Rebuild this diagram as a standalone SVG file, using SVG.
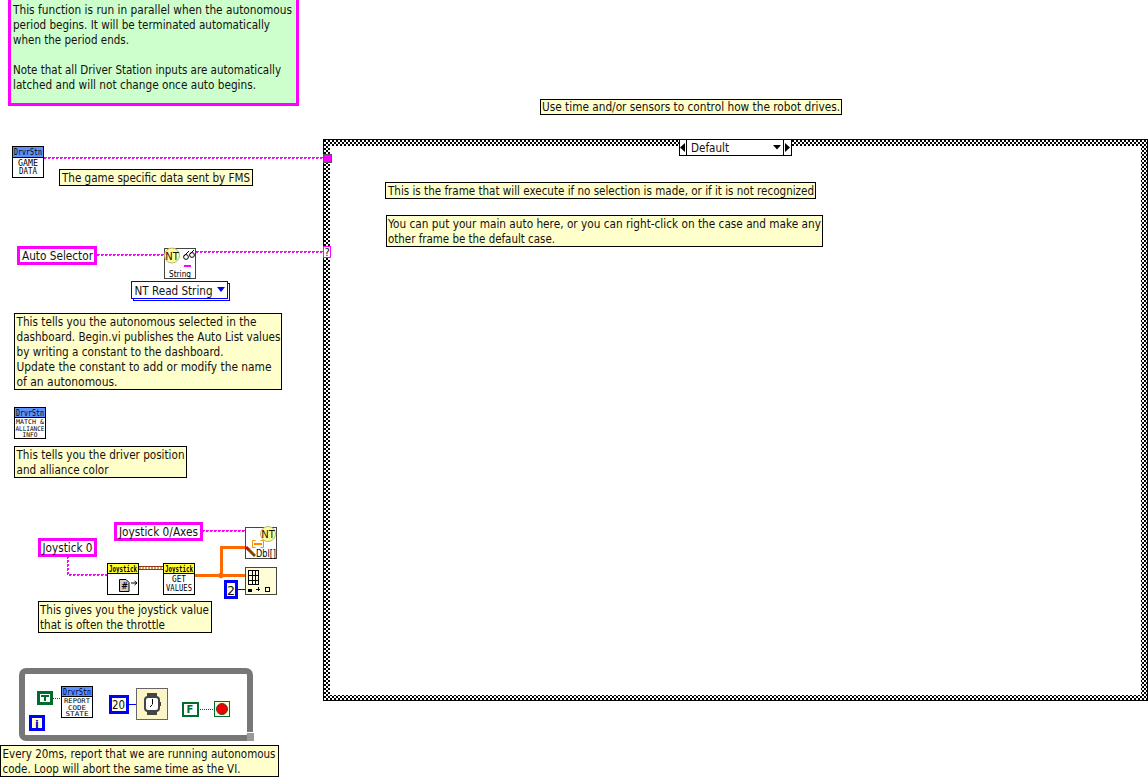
<svg xmlns="http://www.w3.org/2000/svg" width="1148" height="780" viewBox="0 0 1148 780">
<style>
text{font-family:"DejaVu Sans","Noto Sans",sans-serif;font-size:12px;fill:#14100f}
.px{font-size:8px;fill:#000;font-family:"DejaVu Sans Mono","Liberation Mono",monospace}
.hd{font-size:9px;fill:#000;font-family:"DejaVu Sans Mono","Liberation Mono",monospace}
.note{fill:#ffffcc;stroke:#000;stroke-width:1;shape-rendering:crispEdges}
.ctl{fill:#fff;stroke:#ff00ff;stroke-width:3;shape-rendering:crispEdges}
.num{fill:#fffde8;stroke:#0000ff;stroke-width:3;shape-rendering:crispEdges}
.vi{fill:#fff;stroke:#000;stroke-width:1;shape-rendering:crispEdges}
.vg{fill:#fff;stroke:#444;stroke-width:1;shape-rendering:crispEdges}
.hb{fill:#5c8fff;stroke:#000;stroke-width:1;shape-rendering:crispEdges}
.hy{fill:#ffff33;stroke:#000;stroke-width:1;shape-rendering:crispEdges}
.s1,.s2{fill:none;stroke:#ff00ff;stroke-width:1;shape-rendering:crispEdges}
.s1{stroke-dasharray:3 1}
.s2{stroke-dasharray:2 2;stroke-dashoffset:0}
.o{fill:none;stroke:#ff6a00;stroke-width:3;shape-rendering:crispEdges}
.g{fill:none;stroke:#006400;stroke-width:1;stroke-dasharray:1 1;shape-rendering:crispEdges}
.b{fill:none;stroke:#0000ff;stroke-width:1;shape-rendering:crispEdges}
.bc{fill:#006b2d;stroke:#006b2d;shape-rendering:crispEdges}
</style>
<defs>
<pattern id="chk" width="4" height="4" patternUnits="userSpaceOnUse">
<rect width="4" height="4" fill="#fff"/><rect width="2" height="2" fill="#000"/><rect x="2" y="2" width="2" height="2" fill="#000"/>
</pattern>
</defs>
<rect width="1148" height="780" fill="#fff"/>

<g id="case-structure">
<path d="M323 139H1148V701H323ZM330 146V695H1141V146Z" fill="url(#chk)" fill-rule="evenodd" shape-rendering="crispEdges"/>
<path d="M323.500 701V139.500H1148M323.500 700.500H1148M1147.500 139.500V701" fill="none" stroke="#000" shape-rendering="crispEdges"/>
</g>
<g id="case-selector">
<rect x="679.5" y="139.5" width="112" height="16" fill="#fff" stroke="#000" shape-rendering="crispEdges"/>
<path d="M686.5 139.5V155.5M783.5 139.5V155.5" stroke="#000" fill="none" shape-rendering="crispEdges"/>
<path d="M685 143V152L680 147.5Z" fill="#000"/><path d="M785 143V152L790 147.5Z" fill="#000"/>
<path d="M773 145H781L777 149.5Z" fill="#000"/>
<text x="691" y="152" textLength="38" lengthAdjust="spacingAndGlyphs">Default</text>
</g>

<g id="connectors">
<path class="s1" d="M44 157.5H323"/><path class="s2" d="M44 158.5H323"/>
<path class="s1" d="M97 254.5H164"/><path class="s2" d="M97 255.5H164"/>
<path class="s1" d="M196 251.5H323"/><path class="s2" d="M196 252.5H323"/>
<path class="s1" d="M202 530.5H245"/><path class="s2" d="M202 531.5H245"/>
<path class="s1" d="M67.5 556V574.5H107"/><path class="s2" d="M68.5 556V575.5H107"/>
<path d="M139 566H163M139 569H163" stroke="#8b3a10" fill="none" shape-rendering="crispEdges"/>
<path d="M139 567.5H163" stroke="#d9a070" stroke-dasharray="2 1" fill="none" stroke-width="2" shape-rendering="crispEdges"/>
<path class="o" d="M195 575.5H245"/>
<path class="o" d="M221.5 575V547.5H245"/>
<circle cx="221" cy="575.5" r="2.8" fill="#ff6a00"/>
<path class="b" d="M237 589.5H245"/>
<path class="g" d="M53 698.5H61"/>
<path class="b" d="M128 704.5H136"/>
<path class="g" d="M198 709.5H214"/>
</g>

<g id="note-purpose">
<rect x="9.5" y="-2" width="288" height="106" fill="#ccffcc" stroke="#ff00ff" stroke-width="3" shape-rendering="crispEdges"/>
<text x="13" y="14" textLength="279" lengthAdjust="spacingAndGlyphs">This function is run in parallel when the autonomous</text>
<text x="13" y="29" textLength="257" lengthAdjust="spacingAndGlyphs">period begins. It will be terminated automatically</text>
<text x="13" y="44" textLength="116" lengthAdjust="spacingAndGlyphs">when the period ends.</text>
<text x="13" y="74" textLength="268" lengthAdjust="spacingAndGlyphs">Note that all Driver Station inputs are automatically</text>
<text x="13" y="89" textLength="243" lengthAdjust="spacingAndGlyphs">latched and will not change once auto begins.</text>
</g>
<g id="note-use-time">
<rect class="note" x="540.5" y="99.5" width="301" height="15"/>
<text x="542" y="111" textLength="298" lengthAdjust="spacingAndGlyphs">Use time and/or sensors to control how the robot drives.</text>
</g>

<g id="game-data">
<rect class="vi" x="12.5" y="146.5" width="31" height="31"/>
<rect class="hb" x="12.5" y="146.5" width="31" height="11"/>
<text class="hd" x="14" y="155" textLength="28" lengthAdjust="spacingAndGlyphs">DrvrStn</text>
<text class="px" x="28" y="166" text-anchor="middle" textLength="20" lengthAdjust="spacingAndGlyphs">GAME</text>
<text class="px" x="28" y="174" text-anchor="middle" textLength="18" lengthAdjust="spacingAndGlyphs">DATA</text>
</g>
<g id="note-game">
<rect class="note" x="59.5" y="169.5" width="193" height="16"/>
<text x="62" y="182" textLength="188" lengthAdjust="spacingAndGlyphs">The game specific data sent by FMS</text>
</g>
<g id="terminal-game">
<rect x="323.5" y="154.5" width="8" height="8" fill="#ff00ff" stroke="#555" shape-rendering="crispEdges"/>
</g>
<g id="terminal-selector">
<rect x="323.5" y="246.5" width="7" height="11" fill="#fff" stroke="#ff00ff" shape-rendering="crispEdges"/>
<text x="324.5" y="256" style="font-size:10px">?</text>
</g>

<g id="auto-selector">
<rect class="ctl" x="18.5" y="247.5" width="77" height="16"/>
<text x="22" y="260" textLength="71" lengthAdjust="spacingAndGlyphs">Auto Selector</text>
</g>
<g id="nt-read">
<rect class="vg" x="164.5" y="248.5" width="31" height="30"/>
<circle cx="172" cy="255.5" r="7.500" fill="#ffff99" stroke="#b8b870"/>
<text x="172" y="259.5" text-anchor="middle" style="font-size:10px">NT</text>
<circle cx="186" cy="257" r="2.4" fill="none" stroke="#000"/><circle cx="192" cy="255" r="2.4" fill="none" stroke="#000"/>
<path d="M184 256L189 251M190 254L194 250" stroke="#000" fill="none"/>
<rect x="184" y="265" width="7" height="2" fill="#ff00ff"/>
<text class="px" x="180" y="277" text-anchor="middle" style="font-size:8.5px;font-family:'DejaVu Sans',sans-serif" textLength="22" lengthAdjust="spacingAndGlyphs">String</text>
</g>
<g id="nt-enum">
<rect x="133.5" y="283.5" width="96" height="17" fill="#fff" stroke="#0000ff" shape-rendering="crispEdges"/>
<rect x="131.5" y="281.5" width="96" height="17" fill="#fff" stroke="#0000ff" shape-rendering="crispEdges"/>
<path d="M217 287H225L221 292Z" fill="#0000ff"/>
<text x="134.5" y="295" textLength="78" lengthAdjust="spacingAndGlyphs">NT Read String</text>
</g>
<g id="note-auto">
<rect class="note" x="14.5" y="313.5" width="267" height="76"/>
<text x="16.5" y="326" textLength="240" lengthAdjust="spacingAndGlyphs">This tells you the autonomous selected in the</text>
<text x="16.5" y="341" textLength="264" lengthAdjust="spacingAndGlyphs">dashboard. Begin.vi publishes the Auto List values</text>
<text x="16.5" y="356" textLength="207" lengthAdjust="spacingAndGlyphs">by writing a constant to the dashboard.</text>
<text x="16.5" y="371" textLength="255" lengthAdjust="spacingAndGlyphs">Update the constant to add or modify the name</text>
<text x="16.5" y="386" textLength="101" lengthAdjust="spacingAndGlyphs">of an autonomous.</text>
</g>

<g id="match-info">
<rect class="vi" x="14.5" y="407.5" width="31" height="31"/>
<rect class="hb" x="14.5" y="407.5" width="31" height="10"/>
<text class="hd" x="16" y="416" textLength="28" lengthAdjust="spacingAndGlyphs">DrvrStn</text>
<text class="px" x="30" y="424" text-anchor="middle" style="font-size:6.500px" textLength="28" lengthAdjust="spacingAndGlyphs">MATCH &amp;</text>
<text class="px" x="30" y="430.500" text-anchor="middle" style="font-size:6.500px" textLength="29" lengthAdjust="spacingAndGlyphs">ALLIANCE</text>
<text class="px" x="30" y="437" text-anchor="middle" style="font-size:6.500px" textLength="15" lengthAdjust="spacingAndGlyphs">INFO</text>
</g>
<g id="note-driver">
<rect class="note" x="14.5" y="446.5" width="172" height="31"/>
<text x="16.5" y="459" textLength="168" lengthAdjust="spacingAndGlyphs">This tells you the driver position</text>
<text x="16.5" y="474" textLength="92" lengthAdjust="spacingAndGlyphs">and alliance color</text>
</g>

<g id="joystick-0">
<rect class="ctl" x="39.5" y="539.5" width="56" height="16"/>
<text x="42.5" y="552" textLength="50" lengthAdjust="spacingAndGlyphs">Joystick 0</text>
</g>
<g id="joystick-axes">
<rect class="ctl" x="115.5" y="523.5" width="86" height="16"/>
<text x="119" y="536" textLength="79" lengthAdjust="spacingAndGlyphs">Joystick 0/Axes</text>
</g>
<g id="joystick-open">
<rect class="vi" x="107.5" y="563.5" width="31" height="31"/>
<rect class="hy" x="107.5" y="563.5" width="31" height="10"/>
<text class="px" x="123" y="571.5" text-anchor="middle" style="font-weight:bold" textLength="28" lengthAdjust="spacingAndGlyphs">Joystick</text>
<path d="M119.5 579.5H126L129 582.5V591.5H119.5Z" fill="#ccc" stroke="#000"/>
<text x="124.5" y="589" text-anchor="middle" style="font-size:8px;font-weight:bold;fill:#000">#</text>
<path d="M131 583H137M134.5 581L137 583L134.5 585" fill="none" stroke="#000"/>
</g>
<g id="joystick-get">
<rect class="vi" x="163.5" y="563.5" width="31" height="31"/>
<rect class="hy" x="163.5" y="563.5" width="31" height="10"/>
<text class="px" x="179" y="571.5" text-anchor="middle" style="font-weight:bold" textLength="28" lengthAdjust="spacingAndGlyphs">Joystick</text>
<text class="px" x="179" y="582" text-anchor="middle" textLength="14" lengthAdjust="spacingAndGlyphs">GET</text>
<text class="px" x="179" y="591" text-anchor="middle" textLength="26" lengthAdjust="spacingAndGlyphs">VALUES</text>
</g>
<g id="nt-write">
<rect class="vg" x="245.5" y="527.5" width="31" height="31" fill="#fff"/>
<circle cx="268" cy="534" r="7.500" fill="#ffff99" stroke="#b8b870"/>
<text x="268" y="538" text-anchor="middle" style="font-size:10px">NT</text>
<path d="M255.5 540.500H252.500V547.500H255.500M260.500 540.500H263.500V547.500H260.500" fill="none" stroke="#ff8c00"/>
<rect x="254" y="543" width="8" height="2" fill="#ff8c00"/>
<path d="M248 549L255 556" stroke="#7a4a00" stroke-width="3"/>
<path d="M246 547L248.500 549.500" stroke="#d00000" stroke-width="3"/>
<text x="256" y="557" style="font-size:10px;fill:#000" textLength="20" lengthAdjust="spacingAndGlyphs">Dbl[]</text>
</g>
<g id="array-subset">
<rect x="245.500" y="567.500" width="31" height="27" fill="#fffdd8" stroke="#444" shape-rendering="crispEdges"/>
<path d="M248.500 570.500H258.500V584.500H248.500ZM248.500 575.500H258.500M248.500 580.500H258.500M252 570.500V584.500M255 570.500V584.500" fill="#fffdd8" stroke="#000" stroke-width="1" shape-rendering="crispEdges"/>
<rect x="248" y="589" width="4" height="3" fill="#000"/>
<path d="M256 589H260M258 587V591" stroke="#000" fill="none" shape-rendering="crispEdges"/>
<rect x="265.500" y="587.500" width="4" height="4" fill="none" stroke="#000" shape-rendering="crispEdges"/>
</g>
<g id="const-2">
<rect class="num" x="225.500" y="581.500" width="11" height="16"/>
<text x="227" y="594.500" style="font-size:13px" textLength="8" lengthAdjust="spacingAndGlyphs">2</text>
</g>
<g id="note-joystick">
<rect class="note" x="38.500" y="601.500" width="173" height="31"/>
<text x="40" y="614" textLength="169" lengthAdjust="spacingAndGlyphs">This gives you the joystick value</text>
<text x="40" y="629" textLength="125" lengthAdjust="spacingAndGlyphs">that is often the throttle</text>
</g>

<g id="while-loop">
<rect x="22" y="671" width="228" height="67" rx="4" fill="none" stroke="#777" stroke-width="6"/>
<rect x="247" y="733" width="7" height="8" fill="#999" shape-rendering="crispEdges"/>
<rect x="247" y="732" width="7" height="1" fill="#fff" shape-rendering="crispEdges"/>
</g>
<g id="const-true">
<rect class="bc" x="37.500" y="691.500" width="15" height="13"/>
<rect x="40" y="694" width="10" height="8" fill="#fff" shape-rendering="crispEdges"/>
<path d="M41 695H49V697H46V701H44V697H41Z" fill="#006b2d"/>
</g>
<g id="report-code">
<rect class="vi" x="61.500" y="686.500" width="31" height="31"/>
<rect class="hb" x="61.500" y="686.500" width="31" height="10"/>
<text class="hd" x="63" y="695" textLength="28" lengthAdjust="spacingAndGlyphs">DrvrStn</text>
<text class="px" x="77" y="703" text-anchor="middle" style="font-size:6.500px" textLength="26" lengthAdjust="spacingAndGlyphs">REPORT</text>
<text class="px" x="77" y="709.500" text-anchor="middle" style="font-size:6.500px" textLength="18" lengthAdjust="spacingAndGlyphs">CODE</text>
<text class="px" x="77" y="716" text-anchor="middle" style="font-size:6.500px" textLength="23" lengthAdjust="spacingAndGlyphs">STATE</text>
</g>
<g id="iteration">
<rect class="num" x="30.500" y="716.500" width="13" height="13" style="fill:#ffffcc"/>
<text x="37" y="727.500" text-anchor="middle" style="font-size:11px;font-weight:bold;fill:#0000c0">i</text>
</g>
<g id="const-20">
<rect class="num" x="110.500" y="696.500" width="17" height="16"/>
<text x="112" y="709" style="font-size:13px" textLength="13" lengthAdjust="spacingAndGlyphs">20</text>
</g>
<g id="wait">
<rect x="136.500" y="688.500" width="31" height="31" fill="#fbf5c8" stroke="#666" shape-rendering="crispEdges"/>
<rect x="147" y="693" width="10" height="4" fill="#444"/><rect x="147" y="711" width="10" height="4" fill="#444"/>
<rect x="145" y="697" width="14" height="14" rx="3" fill="#fff" stroke="#444" stroke-width="2"/>
<rect x="159" y="702" width="2" height="4" fill="#444"/>
<path d="M152.500 699V704.500M150 707L152 705" stroke="#000" fill="none"/>
</g>
<g id="const-false">
<rect x="182.500" y="702.500" width="15" height="13" fill="#fff" stroke="#006b2d" stroke-width="2" shape-rendering="crispEdges"/>
<text x="190" y="713" text-anchor="middle" style="font-size:10px;font-weight:bold;fill:#006b2d">F</text>
</g>
<g id="stop">
<rect x="214.500" y="701.500" width="15" height="15" fill="#ffffcc" stroke="#006b2d" shape-rendering="crispEdges"/>
<circle cx="222" cy="709" r="5.500" fill="#f00000" stroke="#444"/>
</g>
<g id="note-every">
<rect class="note" x="0.500" y="745.500" width="278" height="31"/>
<text x="2.500" y="758" textLength="273" lengthAdjust="spacingAndGlyphs">Every 20ms, report that we are running autonomous</text>
<text x="2.500" y="773" textLength="238" lengthAdjust="spacingAndGlyphs">code. Loop will abort the same time as the VI.</text>
</g>

<g id="note-frame">
<rect class="note" x="385.500" y="182.500" width="430" height="16"/>
<text x="388" y="195" textLength="426" lengthAdjust="spacingAndGlyphs">This is the frame that will execute if no selection is made, or if it is not recognized</text>
</g>
<g id="note-main">
<rect class="note" x="386.500" y="215.500" width="436" height="31"/>
<text x="388" y="228" textLength="433" lengthAdjust="spacingAndGlyphs">You can put your main auto here, or you can right-click on the case and make any</text>
<text x="388" y="243" textLength="167" lengthAdjust="spacingAndGlyphs">other frame be the default case.</text>
</g>
</svg>
